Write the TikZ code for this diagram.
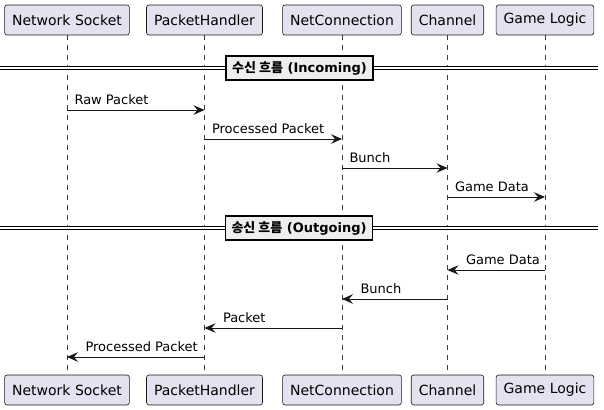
\documentclass[tikz,border=0pt]{standalone}
\usepackage{fontspec}
\setmainfont{DejaVu Sans}
\newfontfamily\krfont{Noto Sans CJK KR}
\usetikzlibrary{arrows.meta,positioning}
\definecolor{partfill}{HTML}{E2E2F0}
\definecolor{edge}{HTML}{181818}
\definecolor{divfill}{HTML}{EEEEEE}
\tikzset{
	part/.style    = {draw=edge, fill=partfill, rounded corners=2.5pt, line width=0.6pt,
		minimum height=30pt, inner xsep=7.5pt, font=\fontsize{14}{16}\selectfont},
	life/.style    = {draw=edge!85, line width=0.6pt, dash pattern=on 5pt off 5pt},
	msg/.style     = {draw=edge, line width=1pt, -{Stealth[length=11pt,width=9.5pt,inset=4pt]}},
	lbl/.style     = {font=\fontsize{13}{15}\selectfont, inner sep=0pt, anchor=base west},
	divbox/.style  = {draw=black, fill=divfill, line width=1.5pt, minimum height=24pt,
		inner xsep=6pt, font=\bfseries\fontsize{13}{15}\selectfont},
	divline/.style = {draw=black, line width=0.8pt, double=white, double distance=2pt}
}

\begin{document}
\begin{tikzpicture}[x=1pt, y=-1pt]
	\useasboundingbox (0,0) rectangle (604,409);
	% participants, top and bottom
	\draw
	node at (67,20)[part] (ns) {Network Socket}
	node at (204.5,20)[part] (ph) {PacketHandler}
	node at (342,20)[part] (nc) {NetConnection}
	node at (447.5,20)[part] (ch) {Channel}
	node at (545,20)[part] (gl) {Game Logic}
	node at (67,390)[part] (ns2) {Network Socket}
	node at (204.5,390)[part] (ph2) {PacketHandler}
	node at (342,390)[part] (nc2) {NetConnection}
	node at (447.5,390)[part] (ch2) {Channel}
	node at (545,390)[part] (gl2) {Game Logic};
	
	% lifelines
	\draw[life] (ns) -- (ns2);
	\draw[life] (ph) -- (ph2);
	\draw[life] (nc) -- (nc2);
	\draw[life] (ch) -- (ch2);
	\draw[life] (gl) -- (gl2);
	
	% incoming
	\coordinate (inL) at (0,68);
	\coordinate (inR) at (598,68);
	\draw[divline] (inL) -- (inR);
	\node at (299.5,68)[divbox] (din) {{\krfont 수신 흐름} (Incoming)};
	
	\draw[msg] (ns |- 0,110) -- node[pos=0, lbl, xshift=7pt, yshift=6pt] {Raw Packet} (ph |- 0,110);
	\draw[msg] (ph |- 0,139) -- node[pos=0, lbl, xshift=7pt, yshift=6pt] {Processed Packet} (nc |- 0,139);
	\draw[msg] (nc |- 0,168) -- node[pos=0, lbl, xshift=7pt, yshift=6pt] {Bunch} (ch |- 0,168);
	\draw[msg] (ch |- 0,197) -- node[pos=0, lbl, xshift=7pt, yshift=6pt] {Game Data} (gl |- 0,197);
	
	% outgoing
	\coordinate (outL) at (0,228);
	\coordinate (outR) at (598,228);
	\draw[divline] (outL) -- (outR);
	\node at (299,228)[divbox] (dout) {{\krfont 송신 흐름} (Outgoing)};
	
	\draw[msg] (gl |- 0,270) -- node[pos=1, lbl, xshift=18pt, yshift=6pt] {Game Data} (ch |- 0,270);
	\draw[msg] (ch |- 0,299) -- node[pos=1, lbl, xshift=18pt, yshift=6pt] {Bunch} (nc |- 0,299);
	\draw[msg] (nc |- 0,328) -- node[pos=1, lbl, xshift=18pt, yshift=6pt] {Packet} (ph |- 0,328);
	\draw[msg] (ph |- 0,357) -- node[pos=1, lbl, xshift=18pt, yshift=6pt] {Processed Packet} (ns |- 0,357);
\end{tikzpicture}
\end{document}
